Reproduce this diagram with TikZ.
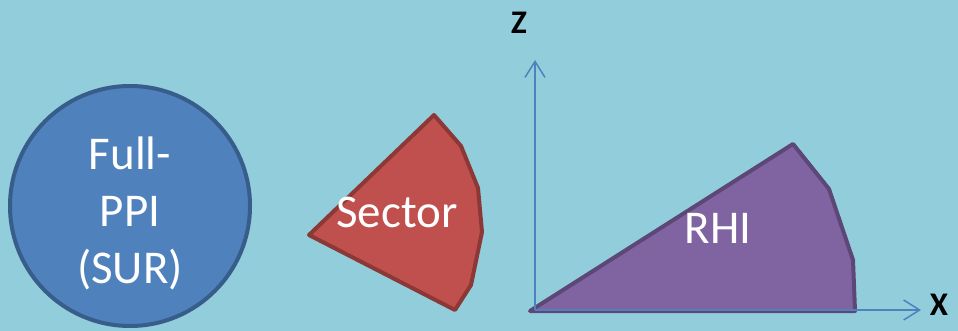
\documentclass[tikz,border=0pt]{standalone}
\usepackage{fontspec}
\setmainfont{Carlito}
\usetikzlibrary{arrows.meta}
\definecolor{bgaqua}{HTML}{92CDDC}
\definecolor{ppiblue}{HTML}{4F81BD}
\definecolor{ppiedge}{HTML}{385D8A}
\definecolor{secred}{HTML}{C0504D}
\definecolor{secedge}{HTML}{8C3836}
\definecolor{rhipurple}{HTML}{8064A2}
\definecolor{rhiedge}{HTML}{5C4776}
\begin{document}
\begin{tikzpicture}[x=1pt,y=-1pt,
  scanlbl/.style={text=white,font=\fontsize{47}{57}\selectfont,align=center,inner sep=0pt},
  axislbl/.style={text=black,font=\bfseries\fontsize{33}{38}\selectfont,inner sep=0pt},
  axisline/.style={draw=ppiblue,line width=1.5pt,-{Straight Barb[length=16pt,width=20pt,line width=1.5pt]}}]
\fill[bgaqua] (0,0) rectangle (958,331);
\useasboundingbox (0,0) rectangle (958,331);

% full ppi
\node[circle,fill=ppiblue,draw=ppiedge,line width=4pt,minimum size=240pt] (ppi) at (130,206) {};
\node[scanlbl] (ppilbl) at (130,213) {Full-\\PPI\\(SUR)};

% sector
\filldraw[fill=secred,draw=secedge,line width=4pt,line join=round]
  (309,235) -- (434,115) -- (461,146) -- (478,188) -- (482,232) -- (471,285) -- (455,310) -- cycle;
\node[scanlbl,anchor=base] (sector) at (397,227) {Sector};

% rhi
\filldraw[fill=rhipurple,draw=rhiedge,line width=4pt,line join=round]
  (530,311) -- (793,144) -- (829,189) -- (853,260) -- (855,311) -- cycle;
\node[scanlbl,anchor=base] (rhi) at (718,243) {RHI};

\coordinate (o) at (535,310);
\coordinate (ztip) at (535,60);
\coordinate (xtip) at (921,310);
\draw[axisline] (o) -- (ztip);
\draw[axisline] (o) -- (xtip);
\node[axislbl] (zlbl) at (519,23) {Z};
\node[axislbl] (xlbl) at (939,305) {X};
\end{tikzpicture}
\end{document}
